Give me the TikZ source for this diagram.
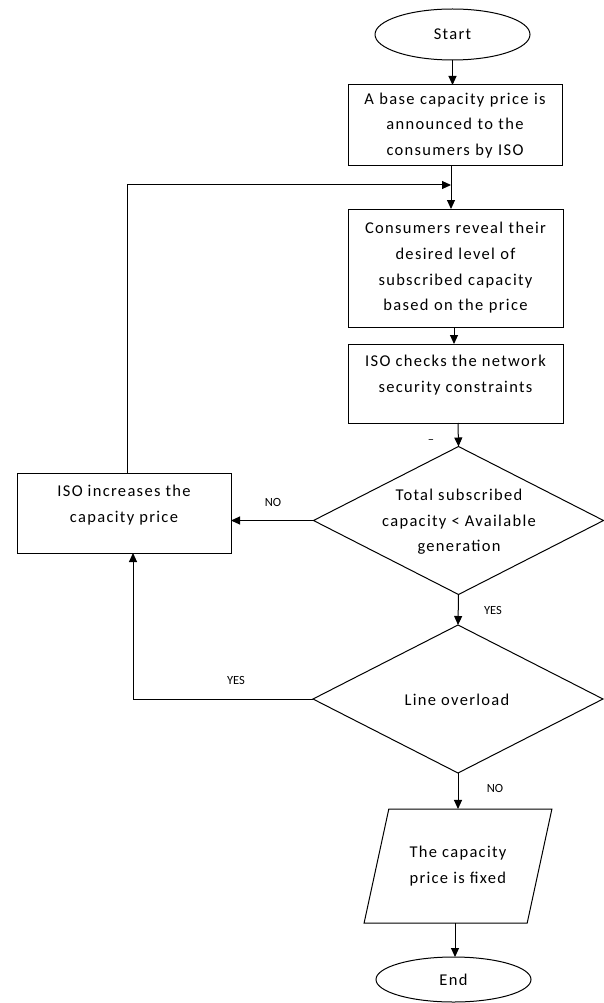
\documentclass[tikz,border=0pt]{standalone}
\usepackage{fontspec}
\setmainfont{Carlito}
\newfontfamily\mainf[LetterSpace=8]{Carlito}
\usetikzlibrary{arrows.meta,shapes.geometric}
\tikzset{
  every node/.style={inner sep=0pt, outer sep=0pt},
  txt/.style={font=\mainf\fontsize{16.5}{25.6}\selectfont, align=center},
  procbox/.style={draw, line width=1pt, txt, text width=205pt},
  term/.style={draw, ellipse, line width=1pt, txt, minimum width=155pt},
  decis/.style={draw, diamond, line width=1pt, minimum width=290pt, minimum height=148pt},
  iobox/.style={draw, trapezium, trapezium left angle=67.6, trapezium right angle=112.4, trapezium stretches=true, line width=1pt, minimum width=188pt, minimum height=114pt, inner sep=2pt, txt, align=left},
  lab/.style={font=\fontsize{12.5}{14}\selectfont},
  conn/.style={line width=1pt, -{Triangle[length=9pt,width=8pt]}},
  plain/.style={line width=1pt}
}
\begin{document}
\begin{tikzpicture}[x=1pt,y=-1pt]
\useasboundingbox (0,0) rectangle (604,1003);
\node[term, minimum height=51pt] (start) at (452.5,34.5) {Start};
\node[procbox, minimum width=214pt, minimum height=81pt] (b1) at (455,125.5) {A base capacity price is\\announced to the\\consumers by ISO};
\node[procbox, minimum width=215pt, minimum height=118pt] (b2) at (455.5,268) {Consumers reveal their\\desired level of\\subscribed capacity\\based on the price};
\node[draw, line width=1pt, minimum width=215pt, minimum height=79pt] (b3) at (455.5,383.5) {};
\node[txt] (b3t) at (455.5,375) {ISO checks the network\\security constraints};
\node[draw, line width=1pt, minimum width=214pt, minimum height=80pt] (inc) at (124,513) {};
\node[txt] (inct) at (124,505) {ISO increases the\\capacity price};
\node[decis] (d1) at (458.5,520.5) {};
\node[txt] (d1t) at (459,522) {Total subscribed\\capacity < Available\\generation};
\node[decis] (d2) at (458,699) {};
\node[txt] (d2t) at (457,700) {Line overload};
\node[iobox] (io) at (458,866) {The capacity\\price is fixed};
\node[term, minimum height=45pt] (end) at (453.5,979.5) {End};
\coordinate (loopc) at (127,185);
\coordinate (yesc) at (133,699);
\coordinate (b1out) at (451,166);
% connectors
\draw[conn] (start.south) -- (start.south |- b1.north);
\draw[conn] (b1out) -- (b1out |- b2.north);
\draw[conn] (inc.north -| loopc) -- (loopc) -- (b1out |- loopc);
\draw[conn] ([xshift=-1.5pt]b2.south) -- ([xshift=-1.5pt]b3.north);
\draw[conn] ([xshift=2.5pt]b3.south) -- (d1.north);
\draw[conn] (d1.west) -- (d1.west -| inc.east);
\draw[conn] (d1.south) -- (d2.north);
\draw[conn] (d2.west) -- (yesc) -- (yesc |- inc.south);
\draw[conn] (d2.south) -- (d2.south |- io.north);
\draw[conn] ([xshift=-3pt]io.south) -- ([xshift=-3pt]io.south |- end.north);
% labels
\node[lab] (no1) at (273,502) {NO};
\node[lab] (yes1) at (493,610) {YES};
\node[lab] (yes2) at (236,680) {YES};
\node[lab] (no2) at (495,788) {NO};
\node[lab] (dash) at (431,442) {\textendash};
\end{tikzpicture}
\end{document}
